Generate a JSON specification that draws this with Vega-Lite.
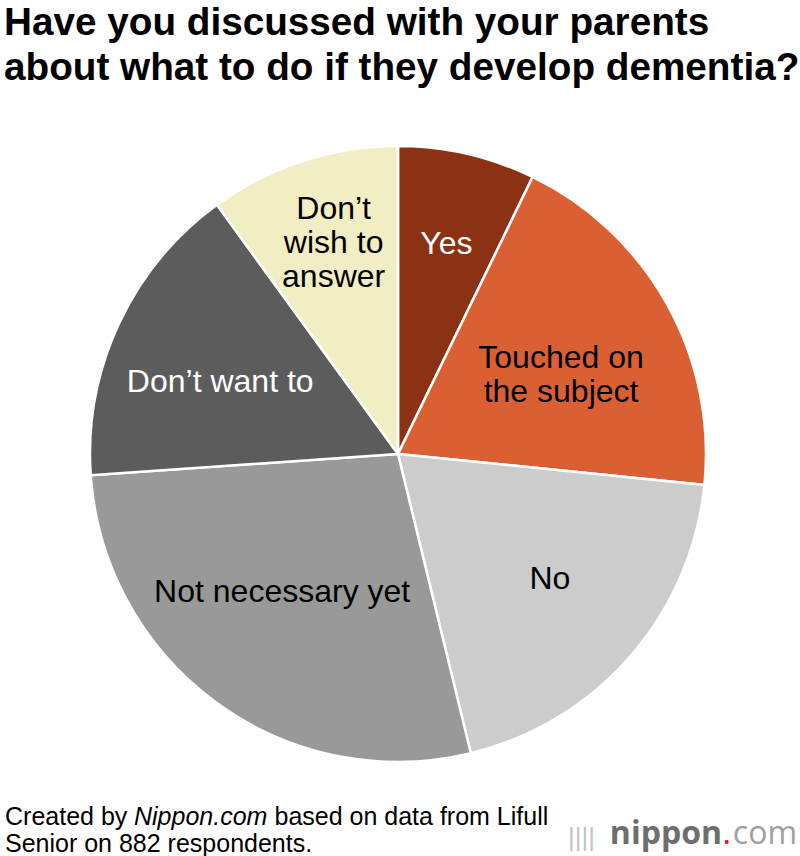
{
  "$schema": "https://vega.github.io/schema/vega-lite/v6.json",
  "padding": {"top": 4, "left": 0, "right": 0, "bottom": 0},
  "spacing": 0,
  "background": "white",
  "config": {"view": {"stroke": null}, "font": "Liberation Sans"},
  "datasets": {
    "pie": [
      {"i": 1, "cat": "Yes", "label": "Yes", "v": 7.2},
      {"i": 2, "cat": "Touched on the subject", "label": "Touched on\nthe subject", "v": 19.4},
      {"i": 3, "cat": "No", "label": "No", "v": 19.6},
      {"i": 4, "cat": "Not necessary yet", "label": "Not necessary yet", "v": 27.7},
      {"i": 5, "cat": "Don’t want to", "label": "Don’t want to", "v": 16.1},
      {"i": 6, "cat": "Don’t wish to answer", "label": "Don’t\nwish to\nanswer", "v": 10.0}
    ]
  },
  "vconcat": [
    {
      "width": 796,
      "height": 616,
      "title": {
        "text": ["Have you discussed with your parents", "about what to do if they develop dementia?"],
        "anchor": "start",
        "frame": "group",
        "fontSize": 38.7,
        "fontWeight": "bold",
        "font": "Liberation Sans",
        "color": "#000000",
        "lineHeight": 45,
        "baseline": "top",
        "offset": 53,
        "dx": 4
      },
      "data": {"name": "pie"},
      "encoding": {
        "theta": {"field": "v", "type": "quantitative", "stack": true},
        "order": {"field": "i", "type": "quantitative"}
      },
      "layer": [
        {
          "mark": {"type": "arc", "stroke": "white", "strokeWidth": 2.5},
          "encoding": {
            "color": {
              "field": "cat",
              "type": "nominal",
              "scale": {
                "domain": ["Yes", "Touched on the subject", "No", "Not necessary yet", "Don’t want to", "Don’t wish to answer"],
                "range": ["#8a3213", "#da6034", "#cccccc", "#999999", "#5c5c5c", "#f2eec4"]
              },
              "legend": null
            }
          }
        },
        {
          "mark": {"type": "text", "radius": 216, "fontSize": 32, "font": "Liberation Sans", "color": "#ffffff"},
          "encoding": {
            "text": {"condition": {"test": "datum.i == 1", "field": "label", "type": "nominal"}, "value": ""}
          }
        },
        {
          "mark": {"type": "text", "radius": 181, "fontSize": 32, "lineBreak": "\n", "lineHeight": 34, "dx": 5, "dy": -8, "font": "Liberation Sans", "color": "#000000"},
          "encoding": {
            "text": {"condition": {"test": "datum.i == 2", "field": "label", "type": "nominal"}, "value": ""}
          }
        },
        {
          "mark": {"type": "text", "radius": 196, "fontSize": 32, "dx": 4, "dy": -4, "font": "Liberation Sans", "color": "#000000"},
          "encoding": {
            "text": {"condition": {"test": "datum.i == 3", "field": "label", "type": "nominal"}, "value": ""}
          }
        },
        {
          "mark": {"type": "text", "radius": 181, "fontSize": 32, "dx": -9, "dy": -8, "font": "Liberation Sans", "color": "#000000"},
          "encoding": {
            "text": {"condition": {"test": "datum.i == 4", "field": "label", "type": "nominal"}, "value": ""}
          }
        },
        {
          "mark": {"type": "text", "radius": 194, "fontSize": 32, "dx": -2, "dy": 10, "font": "Liberation Sans", "color": "#ffffff"},
          "encoding": {
            "text": {"condition": {"test": "datum.i == 5", "field": "label", "type": "nominal"}, "value": ""}
          }
        },
        {
          "mark": {"type": "text", "radius": 218, "fontSize": 32, "lineBreak": "\n", "lineHeight": 34, "dx": 3, "dy": -38, "font": "Liberation Sans", "color": "#000000"},
          "encoding": {
            "text": {"condition": {"test": "datum.i == 6", "field": "label", "type": "nominal"}, "value": ""}
          }
        }
      ]
    },
    {
      "width": 800,
      "height": 94,
      "layer": [
        {
          "data": {"values": [{"t": "Created by"}]},
          "mark": {"type": "text", "align": "left", "baseline": "alphabetic", "fontSize": 25, "dx": 5, "dy": -36, "font": "Liberation Sans", "color": "#000000"},
          "encoding": {"x": {"value": 0}, "y": {"value": "height"}, "text": {"field": "t", "type": "nominal"}}
        },
        {
          "data": {"values": [{"t": "Nippon.com"}]},
          "mark": {"type": "text", "align": "left", "baseline": "alphabetic", "fontSize": 25, "fontStyle": "italic", "dx": 134, "dy": -36, "font": "Liberation Sans", "color": "#000000"},
          "encoding": {"x": {"value": 0}, "y": {"value": "height"}, "text": {"field": "t", "type": "nominal"}}
        },
        {
          "data": {"values": [{"t": "based on data from Lifull"}]},
          "mark": {"type": "text", "align": "left", "baseline": "alphabetic", "fontSize": 25, "dx": 274.5, "dy": -36, "font": "Liberation Sans", "color": "#000000"},
          "encoding": {"x": {"value": 0}, "y": {"value": "height"}, "text": {"field": "t", "type": "nominal"}}
        },
        {
          "data": {"values": [{"t": "Senior on 882 respondents."}]},
          "mark": {"type": "text", "align": "left", "baseline": "alphabetic", "fontSize": 25, "dx": 5, "dy": -9, "font": "Liberation Sans", "color": "#000000"},
          "encoding": {"x": {"value": 0}, "y": {"value": "height"}, "text": {"field": "t", "type": "nominal"}}
        },
        {
          "data": {"values": [{"t": "||||"}]},
          "mark": {"type": "text", "align": "right", "baseline": "alphabetic", "fontSize": 26, "dx": -205, "dy": -15, "font": "Liberation Sans", "color": "#c4c4c4"},
          "encoding": {"x": {"value": "width"}, "y": {"value": "height"}, "text": {"field": "t", "type": "nominal"}}
        },
        {
          "data": {"values": [{"t": "com"}]},
          "mark": {"type": "text", "align": "right", "baseline": "alphabetic", "fontSize": 32, "dx": -3, "dy": -17, "font": "Open Sans", "color": "#a0a0a0"},
          "encoding": {"x": {"value": "width"}, "y": {"value": "height"}, "text": {"field": "t", "type": "nominal"}}
        },
        {
          "data": {"values": [{"t": "."}]},
          "mark": {"type": "text", "align": "right", "baseline": "alphabetic", "fontSize": 32, "dx": -69, "dy": -17, "font": "Open Sans", "color": "#e8141e"},
          "encoding": {"x": {"value": "width"}, "y": {"value": "height"}, "text": {"field": "t", "type": "nominal"}}
        },
        {
          "data": {"values": [{"t": "nippon"}]},
          "mark": {"type": "text", "align": "right", "baseline": "alphabetic", "fontSize": 32, "fontWeight": "bold", "dx": -78, "dy": -17, "font": "Open Sans", "color": "#6e6e6e"},
          "encoding": {"x": {"value": "width"}, "y": {"value": "height"}, "text": {"field": "t", "type": "nominal"}}
        }
      ]
    }
  ]
}
